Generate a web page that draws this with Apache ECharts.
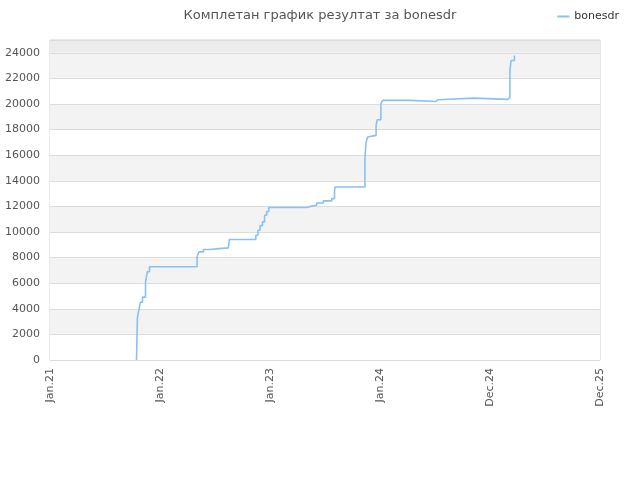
<!DOCTYPE html>
<html><head><meta charset="utf-8">
<script src="https://cdn.jsdelivr.net/npm/echarts@6/dist/echarts.min.js"></script>
<style>html,body{margin:0;padding:0;background:#fff}#c{width:640px;height:480px}</style>
</head><body><div id="c"></div>
<script>
// days since 1 Jan 2021
const days = [287,288,290,294,300,307,317,323,330,488,494,509,531,560,592,595,683,690,697,705,712,719,726,852,863,885,907,935,944,946,1045,1049,1054,1056,1082,1086,1098,1103,1195,1280,1288,1405,1519,1526,1530,1541];
const scores = [0,1040,3280,3820,4520,4910,6100,6890,7280,8060,8450,8630,8700,8760,8840,9410,9750,10140,10500,10790,11310,11600,11910,12000,12090,12270,12430,12610,13200,13520,15860,17030,17420,17550,18330,18770,20020,20280,20200,20330,20460,20360,20490,22620,23400,23790];
const xTickLabels = ['Jan.21','Jan.22','Jan.23','Jan.24','Dec.24','Dec.25'];
const seriesName = 'bonesdr';
const titleText = 'Комплетан график резултат за bonesdr';

const chart = echarts.init(document.getElementById('c'));
const bandColors = [];
for (let i = 0; i < 12; i++) bandColors.push(i % 2 ? '#f3f3f3' : '#ffffff');
bandColors.push('#ececec');
chart.setOption({
  animation: false,
  title: { text: titleText, left: 'center', top: 4,
    textStyle: { fontFamily: 'DejaVu Sans', fontSize: 13, fontWeight: 'normal', color: '#555' } },
  legend: { right: 16, top: 6, itemWidth: 12, itemHeight: 2, itemGap: 8,
    icon: 'rect',
    textStyle: { fontFamily: 'DejaVu Sans', fontSize: 11, color: '#333' },
    data: [seriesName] },
  grid: { left: 50, right: 40, top: 40, bottom: 120, show: true, borderColor: '#d4d4d4', borderWidth: 1 },
  xAxis: { type: 'value', min: 0, max: 1825, interval: 365,
    axisLine: { show: false }, axisTick: { show: false }, splitLine: { show: false },
    axisLabel: { rotate: 90, margin: 8, color: '#555', fontFamily: 'DejaVu Sans', fontSize: 11,
      formatter: v => xTickLabels[Math.round(v / 365)] || '' } },
  yAxis: { type: 'value', min: 0, max: 25000, interval: 2000,
    axisLine: { show: false }, axisTick: { show: false },
    axisLabel: { margin: 10, color: '#555', fontFamily: 'DejaVu Sans', fontSize: 11,
      formatter: v => v > 24000 ? '' : String(v) },
    splitLine: { show: true, lineStyle: { color: '#dcdcdc' } },
    splitArea: { show: true, areaStyle: { color: bandColors } } },
  series: [{ name: seriesName, type: 'line', step: 'end', showSymbol: false, symbol: 'none',
    lineStyle: { color: '#8ac0f2', width: 1.6 }, itemStyle: { color: '#8ac0f2' },
    data: days.map((d, i) => [d, scores[i]]) }]
});
</script></body></html>
